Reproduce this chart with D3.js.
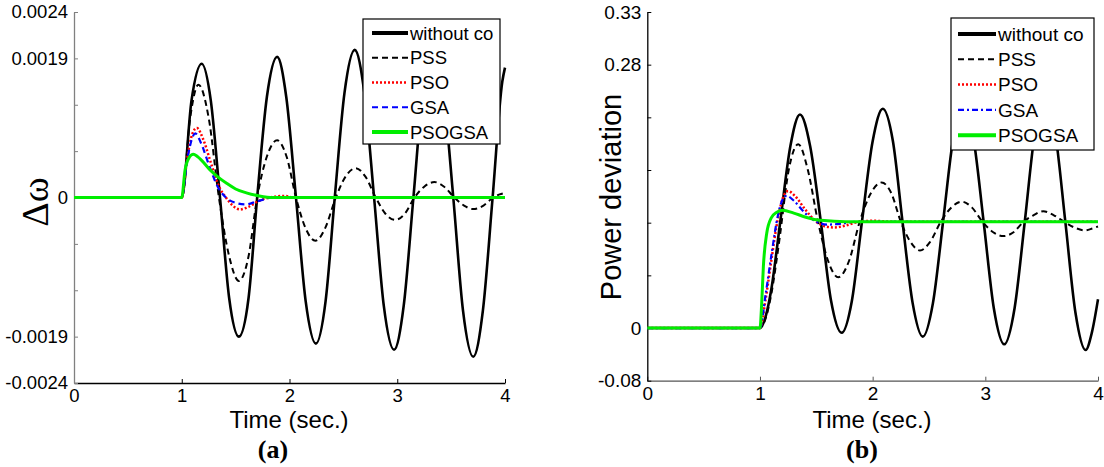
<!DOCTYPE html>
<html>
<head>
<meta charset="utf-8">
<script src="https://cdn.jsdelivr.net/npm/d3@7"></script>
<style>
  body { margin: 0; background: #fff; }
  text { font-family: "Liberation Sans", Arial, sans-serif; }
</style>
</head>
<body>
<div id="chart"></div>
<script>
// ---- data: [time (s), value] ----
var seriesNames = ["without co", "PSS", "PSO", "GSA", "PSOGSA"];

// (a) speed deviation
var aWithout = [[0,0],[1.0,0],[1.09,0.00125],[1.185,0.00173],[1.27,0.00125],[1.355,0],[1.44,-0.0013],[1.53,-0.0018],[1.62,-0.0013],[1.70,0],[1.79,0.0013],[1.885,0.00182],[1.97,0.0013],[2.06,0],[2.15,-0.00134],[2.245,-0.00189],[2.335,-0.00134],[2.42,0],[2.51,0.00135],[2.605,0.00191],[2.695,0.00135],[2.785,0],[2.875,-0.0014],[2.97,-0.00197],[3.06,-0.0014],[3.15,0],[3.24,0.00143],[3.335,0.00202],[3.425,0.00143],[3.52,0],[3.61,-0.00146],[3.705,-0.00206],[3.795,-0.00146],[3.885,0],[3.975,0.0015],[4.0,0.00168]];
var aPSS = [[0,0],[1.0,0],[1.08,0.00105],[1.155,0.00146],[1.25,0.00103],[1.345,0],[1.44,-0.00076],[1.53,-0.00108],[1.62,-0.00076],[1.70,0],[1.79,0.00053],[1.885,0.00074],[1.975,0.00052],[2.06,0],[2.15,-0.0004],[2.24,-0.00056],[2.33,-0.0004],[2.43,0],[2.52,0.00027],[2.615,0.00038],[2.705,0.00027],[2.80,0],[2.89,-0.00021],[2.98,-0.00029],[3.07,-0.00021],[3.16,0],[3.25,0.00014],[3.345,0.0002],[3.435,0.00014],[3.53,0],[3.62,-0.000105],[3.705,-0.00015],[3.80,-0.000105],[3.89,0],[3.95,0.00004],[4.0,0.00006]];
var aPSO = [[0,0],[1.0,0],[1.05,0.0005],[1.1,0.00083],[1.14,0.0009],[1.2,0.00075],[1.27,0.00045],[1.34,0.00016],[1.41,0],[1.47,-0.0001],[1.54,-0.000155],[1.62,-0.00012],[1.72,-0.00004],[1.82,0],[1.95,0.00002],[2.05,0],[4.0,0]];
var aGSA = [[0,0],[1.0,0],[1.05,0.00048],[1.1,0.00078],[1.125,0.00083],[1.18,0.0007],[1.25,0.00043],[1.33,0.00015],[1.41,0],[1.5,-0.00007],[1.59,-0.00009],[1.7,-0.00005],[1.85,0],[4.0,0]];
var aPSOGSA = [[0,0],[1.0,0],[1.03,0.00035],[1.07,0.00052],[1.107,0.00056],[1.17,0.0005],[1.26,0.00036],[1.34,0.00026],[1.42,0.00018],[1.5,0.00011],[1.6,0.00006],[1.72,0.00002],[1.85,0],[4.0,0]];

// (b) power deviation
var bWithout = [[0,0],[1.0,0],[1.05,0.012],[1.1,0.04],[1.18,0.111],[1.27,0.19],[1.355,0.223],[1.445,0.19],[1.54,0.111],[1.63,0.029],[1.725,-0.005],[1.815,0.028],[1.905,0.111],[2.0,0.195],[2.09,0.229],[2.18,0.195],[2.265,0.111],[2.355,0.026],[2.445,-0.009],[2.535,0.026],[2.625,0.111],[2.715,0.198],[2.805,0.234],[2.895,0.198],[2.985,0.111],[3.075,0.021],[3.168,-0.017],[3.26,0.021],[3.35,0.111],[3.44,0.204],[3.53,0.242],[3.62,0.204],[3.71,0.111],[3.80,0.016],[3.89,-0.023],[3.945,-0.005],[4.0,0.03]];
var bPSS = [[0,0],[1.0,0],[1.05,0.01],[1.1,0.035],[1.17,0.09],[1.255,0.165],[1.34,0.192],[1.425,0.165],[1.515,0.111],[1.605,0.07],[1.695,0.053],[1.79,0.07],[1.885,0.111],[1.985,0.141],[2.08,0.152],[2.165,0.141],[2.25,0.111],[2.335,0.09],[2.42,0.081],[2.51,0.09],[2.605,0.111],[2.7,0.126],[2.79,0.132],[2.88,0.126],[2.975,0.111],[3.07,0.1],[3.16,0.096],[3.25,0.1],[3.34,0.111],[3.43,0.118],[3.514,0.122],[3.605,0.118],[3.7,0.111],[3.79,0.105],[3.884,0.102],[3.95,0.104],[4.0,0.106]];
var bPSO = [[0,0],[1.0,0],[1.05,0.03],[1.1,0.07],[1.16,0.115],[1.21,0.138],[1.25,0.143],[1.31,0.138],[1.4,0.124],[1.5,0.111],[1.58,0.106],[1.66,0.105],[1.76,0.107],[1.88,0.111],[2.0,0.112],[2.2,0.111],[4.0,0.111]];
var bGSA = [[0,0],[1.0,0],[1.05,0.035],[1.1,0.075],[1.16,0.118],[1.2,0.134],[1.237,0.138],[1.3,0.133],[1.4,0.12],[1.5,0.111],[1.6,0.108],[1.72,0.109],[1.85,0.111],[4.0,0.111]];
var bPSOGSA = [[0,0],[1.0,0],[1.015,0.025],[1.03,0.064],[1.06,0.099],[1.1,0.115],[1.15,0.121],[1.2,0.123],[1.3,0.12],[1.4,0.116],[1.5,0.113],[1.6,0.112],[1.8,0.111],[4.0,0.111]];

// tick values and their printed labels
var xTicks = [0, 1, 2, 3, 4];
var aYTicks = [-0.0024, -0.0018, -0.0012, -0.0006, 0, 0.0006, 0.0012, 0.0018, 0.0024];
var aYLabels = ["-0.0024", "-0.0019", "", "", "0", "", "", "0.0019", "0.0024"];
var bYTicks = [-0.055, 0, 0.055, 0.11, 0.165, 0.22, 0.275, 0.33];
var bYLabels = ["-0.08", "0", "", "", "", "", "0.28", "0.33"];

// ---- styles ----
var styles = [
  {color: "#000", width: 2.6, dash: null},
  {color: "#000", width: 2, dash: "6,4"},
  {color: "#ff0000", width: 2.5, dash: "2,2"},
  {color: "#0000ff", width: 2.2, dash: "6,4"},
  {color: "#00ee00", width: 3, dash: null}
];

var svg = d3.select("#chart").append("svg")
  .attr("width", 1104)
  .attr("height", 467);

function panel(cfg) {
  var x = d3.scaleLinear().domain([0, 4]).range(cfg.xr);
  var y = d3.scaleLinear().domain(cfg.yd).range(cfg.yr);
  var g = svg.append("g");

  // x axis
  var xa = g.append("g")
    .attr("transform", "translate(0," + cfg.yr[0] + ")")
    .call(d3.axisBottom(x).tickValues(xTicks).tickFormat(d3.format("d"))
      .tickSize(-4).tickSizeOuter(0).tickPadding(6));
  xa.select(".domain").attr("stroke", cfg.xAxisColor).attr("stroke-width", 1.3);
  xa.selectAll(".tick line").attr("stroke", cfg.xAxisColor);
  xa.selectAll("text").attr("font-size", cfg.fs).attr("fill", "#000")
    .style("font-family", "Liberation Sans, Arial, sans-serif");

  // y axis
  var ya = g.append("g")
    .attr("transform", "translate(" + cfg.xr[0] + ",0)")
    .call(d3.axisLeft(y).tickValues(cfg.yTicks).tickFormat(function(d, i) { return cfg.yLabels[i]; })
      .tickSize(-4).tickSizeOuter(0).tickPadding(6));
  ya.select(".domain").attr("stroke", cfg.yAxisColor).attr("stroke-width", 1.3);
  ya.selectAll(".tick line").attr("stroke", cfg.yAxisColor);
  ya.selectAll("text").attr("font-size", cfg.fs).attr("fill", "#000")
    .style("font-family", "Liberation Sans, Arial, sans-serif");

  // curves
  var line = d3.line()
    .x(function(d) { return x(d[0]); })
    .y(function(d) { return y(d[1]); })
    .curve(d3.curveMonotoneX);

  cfg.series.forEach(function(s, i) {
    var st = cfg.styles[i];
    g.append("path")
      .datum(s)
      .attr("d", line)
      .attr("fill", "none")
      .attr("stroke", st.color)
      .attr("stroke-width", st.width)
      .attr("stroke-dasharray", st.dash)
      .attr("stroke-linejoin", "round");
  });

  // legend
  var L = cfg.legend;
  g.append("rect")
    .attr("x", L.x).attr("y", L.y).attr("width", L.w).attr("height", L.h)
    .attr("fill", "#fff").attr("stroke", "#000").attr("stroke-width", 1.2);
  seriesNames.forEach(function(name, i) {
    var st = cfg.styles[i];
    var ry = L.row0 + i * L.step;
    g.append("line")
      .attr("x1", L.lx0).attr("x2", L.lx1).attr("y1", ry).attr("y2", ry)
      .attr("stroke", st.color)
      .attr("stroke-width", i === 0 || i === 4 ? 4 : st.width)
      .attr("stroke-dasharray", st.dash);
    g.append("text")
      .attr("x", L.tx).attr("y", ry).attr("dy", "0.36em")
      .attr("font-size", cfg.fs)
      .text(name);
  });

  // axis titles
  g.append("text")
    .attr("x", cfg.xlab[0]).attr("y", cfg.xlab[1])
    .attr("text-anchor", "middle")
    .attr("font-size", 24)
    .text("Time (sec.)");

  g.append("text")
    .attr("transform", "translate(" + cfg.ylab[0] + "," + cfg.ylab[1] + ") rotate(-90)")
    .attr("text-anchor", "middle")
    .attr("font-size", cfg.ylabSize)
    .style("font-family", cfg.ylabFont)
    .text(cfg.ylabText);

  g.append("text")
    .attr("x", cfg.cap[0]).attr("y", cfg.cap[1])
    .attr("text-anchor", "middle")
    .attr("font-size", 26)
    .attr("font-weight", "bold")
    .style("font-family", "Liberation Serif, Times New Roman, serif")
    .text(cfg.capText);
}

panel({
  xr: [74, 505], yr: [383, 12], yd: [-0.0024, 0.0024],
  yTicks: aYTicks, yLabels: aYLabels,
  series: [aWithout, aPSS, aPSO, aGSA, aPSOGSA],
  styles: styles,
  fs: 18.5,
  xAxisColor: "#000", yAxisColor: "#808080",
  legend: {x: 363, y: 19, w: 137, h: 125, row0: 33, step: 24.75, lx0: 372, lx1: 408, tx: 410},
  xlab: [289, 428],
  ylab: [48, 202], ylabText: "\u0394\u03c9", ylabSize: 38, ylabFont: "Liberation Serif, Times New Roman, serif",
  cap: [273, 458], capText: "(a)"
});

panel({
  xr: [647.3, 1098], yr: [380.7, 12], yd: [-0.055, 0.33],
  yTicks: bYTicks, yLabels: bYLabels,
  series: [bWithout, bPSS, bPSO, bGSA, bPSOGSA],
  styles: styles.map(function(s, i) { return i === 3 ? {color: s.color, width: s.width, dash: "6,3,2,3"} : s; }),
  fs: 19,
  xAxisColor: "#555", yAxisColor: "#000",
  legend: {x: 951, y: 18, w: 143, h: 132, row0: 34, step: 25.3, lx0: 958, lx1: 996, tx: 998},
  xlab: [872, 428],
  ylab: [621, 197], ylabText: "Power deviation", ylabSize: 29, ylabFont: "Liberation Sans, Arial, sans-serif",
  cap: [862, 458], capText: "(b)"
});
</script>
</body>
</html>
